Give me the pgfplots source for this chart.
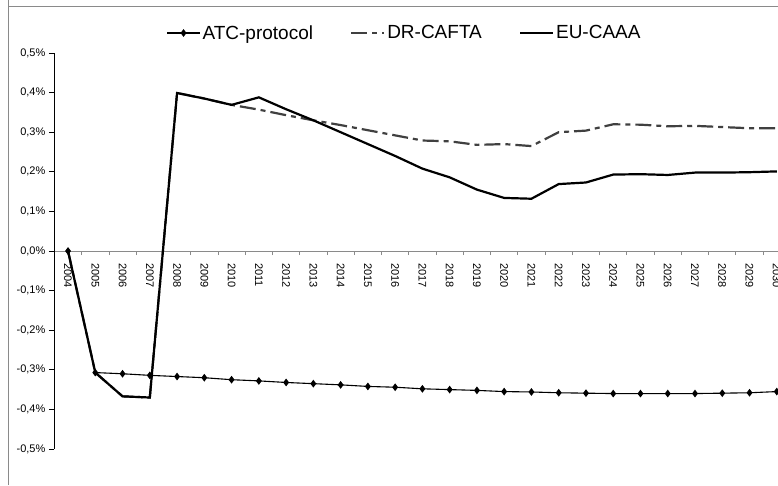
\documentclass[border=0pt]{standalone}
\usepackage{fontspec}
\setmainfont{Liberation Sans}
\usepackage{pgfplots}
\pgfplotsset{compat=1.18}
\definecolor{framegray}{HTML}{8A8A8A}
\definecolor{drgray}{HTML}{404040}
\begin{document}
\begin{tikzpicture}[x=1pt,y=1pt]
\useasboundingbox (0,0) rectangle (778,485);
\begin{scope}
\clip (0,0) rectangle (778,485);
\begin{axis}[at={(54.4pt,36pt)}, anchor=south west, scale only axis,
  width=736pt, height=396pt,
  xmin=-0.5, xmax=26.5, ymin=-0.5, ymax=0.5,
  axis x line=middle, axis y line=left, axis line style={-},
  x axis line style={color=framegray, line width=0.8pt},
  y axis line style={color=black, line width=0.8pt},
  tick align=outside,
  xtick={0,...,26},
  xticklabels={2004,2005,2006,2007,2008,2009,2010,2011,2012,2013,2014,2015,2016,2017,2018,2019,2020,2021,2022,2023,2024,2025,2026,2027,2028,2029,2030},
  major x tick style={draw=none},
  minor xtick={-0.5,0.5,...,26.5},
  minor x tick style={color=framegray, line width=0.8pt},
  minor tick length=4pt,
  xticklabel shift=3pt,
  ytick={-0.5,-0.4,-0.3,-0.2,-0.1,0,0.1,0.2,0.3,0.4,0.5},
  yticklabels={{-0,5\%},{-0,4\%},{-0,3\%},{-0,2\%},{-0,1\%},{0,0\%},{0,1\%},{0,2\%},{0,3\%},{0,4\%},{0,5\%}},
  major y tick style={color=black, line width=0.8pt},
  major tick length=5.5pt,
  yticklabel style={font=\fontsize{11}{13}\selectfont, color=black},
  xticklabel style={font=\fontsize{11}{13}\selectfont, rotate=-90, anchor=west, color=black},
  legend columns=-1,
  legend style={at={(0.4757,1.0505)}, anchor=center, draw=none, fill=none,
    font=\fontsize{19}{22}\selectfont,
    /tikz/every even column/.append style={column sep=35pt}},
  legend image code/.code={\draw[mark repeat=2,mark phase=2,#1] plot coordinates {(0pt,0pt) (16.5pt,0pt) (33pt,0pt)};},
]
\addplot[black, line width=1.1pt, mark=diamond*, mark size=3pt, mark options={solid}] coordinates {
(0,0) (1,-0.307) (2,-0.310) (3,-0.314) (4,-0.317) (5,-0.320) (6,-0.325) (7,-0.328) (8,-0.332) (9,-0.335) (10,-0.338) (11,-0.342) (12,-0.344) (13,-0.348) (14,-0.350) (15,-0.352) (16,-0.355) (17,-0.356) (18,-0.358) (19,-0.359) (20,-0.360) (21,-0.360) (22,-0.360) (23,-0.360) (24,-0.359) (25,-0.358) (26,-0.355)};
\addlegendentry{ATC-protocol}
\addplot[drgray, line width=2.2pt, dash pattern=on 16pt off 5pt on 5pt off 5pt] coordinates {
(0,0) (1,-0.307) (2,-0.367) (3,-0.370) (4,0.399) (5,0.385) (6,0.369) (7,0.357) (8,0.343) (9,0.330) (10,0.318) (11,0.305) (12,0.292) (13,0.279) (14,0.277) (15,0.268) (16,0.270) (17,0.265) (18,0.300) (19,0.304) (20,0.320) (21,0.319) (22,0.315) (23,0.316) (24,0.313) (25,0.310) (26,0.310)};
\addlegendentry{DR-CAFTA}
\addplot[black, line width=2.2pt] coordinates {
(0,0) (1,-0.307) (2,-0.367) (3,-0.370) (4,0.399) (5,0.385) (6,0.369) (7,0.388) (8,0.358) (9,0.330) (10,0.300) (11,0.270) (12,0.240) (13,0.208) (14,0.186) (15,0.155) (16,0.134) (17,0.132) (18,0.169) (19,0.173) (20,0.193) (21,0.194) (22,0.192) (23,0.198) (24,0.198) (25,0.199) (26,0.201)};
\addlegendentry{EU-CAAA}
\end{axis}
\end{scope}
\draw[color=framegray, line width=1.2pt] (8.5,485) -- (8.5,478.5) -- (778,478.5);
\draw[color=framegray, line width=1.2pt] (8.5,0) -- (8.5,478.5);
\end{tikzpicture}
\end{document}
